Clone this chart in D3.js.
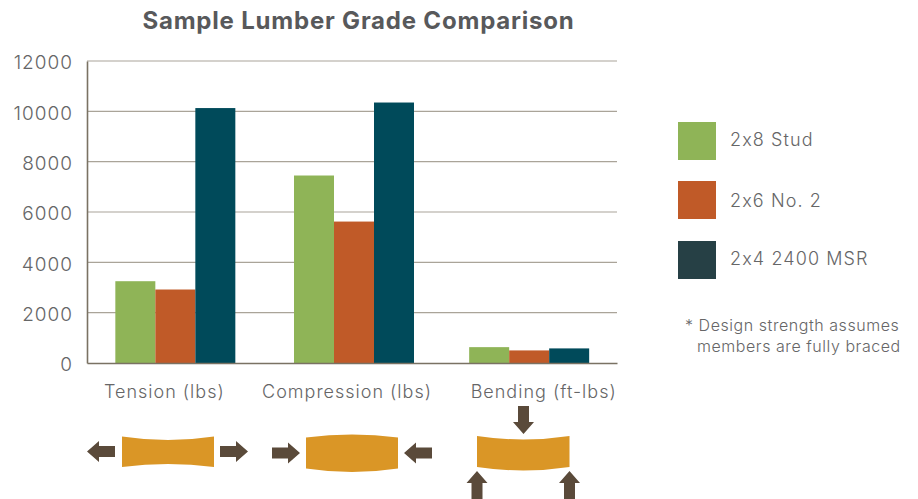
<!DOCTYPE html>
<html>
<head>
<meta charset="UTF-8"/>
<style>
  html, body { margin: 0; padding: 0; background: #fff; }
  svg { display: block; }
  text { font-family: Inter, "Open Sans", sans-serif; font-weight: 300; fill: #666667; font-feature-settings: "calt" 0; }
</style>
</head>
<body>
<script src="https://d3js.org/d3.v7.min.js"></script>
<script>
var categories = ["Tension (lbs)", "Compression (lbs)", "Bending (ft-lbs)"];
var seriesNames = ["2x8 Stud", "2x6 No. 2", "2x4 2400 MSR"];
var stud = [3250, 7450, 630];
var no2 = [2920, 5620, 500];
var msr = [10130, 10350, 580];
var yTicks = [0, 2000, 4000, 6000, 8000, 10000, 12000];
var footnote = ["* Design strength assumes", "members are fully braced"];

var seriesValues = [stud, no2, msr];
var barColors = ["#8fb457", "#c05a28", "#004a5a"];
var legendColors = ["#8fb457", "#c05a28", "#264045"];

var width = 918, height = 499;
var plotLeft = 87, plotRight = 617, plotTop = 61, plotBottom = 363;

var svg = d3.select("body").append("svg")
    .attr("width", width)
    .attr("height", height);

var x = d3.scaleBand().domain(categories).range([plotLeft, plotRight]);
var xInner = d3.scaleBand().domain(seriesNames).range([-60, 60]);
var y = d3.scaleLinear().domain([0, 12000]).range([plotBottom, plotTop]);

svg.append("text")
    .attr("x", 358.5).attr("y", 29)
    .attr("text-anchor", "middle")
    .style("font-size", "24px").style("font-weight", 700)
    .style("letter-spacing", "0.8px")
    .style("fill", "#58595b")
    .text("Sample Lumber Grade Comparison");

// gridlines
svg.append("g").selectAll("line")
    .data(yTicks.slice(1))
    .enter().append("line")
    .attr("x1", plotLeft).attr("x2", plotRight)
    .attr("y1", function(d) { return y(d); })
    .attr("y2", function(d) { return y(d); })
    .attr("stroke", "#aaa499").attr("stroke-width", 1.2);

// bars, the groups are not quite evenly spaced in the picture
var groupShift = [0, 2, 0.5];
var groups = svg.append("g").selectAll("g")
    .data(categories)
    .enter().append("g")
    .attr("transform", function(d, i) {
        return "translate(" + (x(d) + x.bandwidth() / 2 + groupShift[i]) + ",0)";
    });

groups.selectAll("rect")
    .data(function(d, i) {
        return seriesNames.map(function(s, j) {
            return { name: s, value: seriesValues[j][i], color: barColors[j] };
        });
    })
    .enter().append("rect")
    .attr("x", function(d) { return xInner(d.name); })
    .attr("width", xInner.bandwidth())
    .attr("y", function(d) { return y(d.value); })
    .attr("height", function(d) { return plotBottom - y(d.value); })
    .attr("fill", function(d) { return d.color; });

// axes
var yAxis = svg.append("g")
    .attr("transform", "translate(" + plotLeft + ",0)")
    .call(d3.axisLeft(y).tickValues(yTicks).tickSize(0).tickPadding(14).tickFormat(d3.format("d")));
yAxis.select(".domain").attr("stroke", "#7a7263").attr("stroke-width", 1.6);
yAxis.selectAll("text")
    .attr("dy", "0.42em")
    .style("font-size", "19px")
    .style("letter-spacing", "1px")
    .style("font-family", "Inter, sans-serif");

var xAxis = svg.append("g")
    .attr("transform", "translate(0," + plotBottom + ")")
    .call(d3.axisBottom(x).tickSize(0).tickPadding(19));
xAxis.select(".domain").attr("stroke", "#7a7263").attr("stroke-width", 1.6);
// the labels sit a little off the group centres in the picture
var labelShift = [-11, -5, 15];
xAxis.selectAll("text")
    .attr("dx", function(d, i) { return labelShift[i]; })
    .attr("dy", "0.9em")
    .style("font-size", "18px")
    .style("letter-spacing", "1px")
    .style("font-family", "Inter, sans-serif");

// legend
var legend = svg.append("g").selectAll("g")
    .data(seriesNames)
    .enter().append("g")
    .attr("transform", function(d, i) {
        return "translate(678," + [122, 181, 241][i] + ")";
    });
legend.append("rect")
    .attr("width", 38).attr("height", 38)
    .attr("fill", function(d, i) { return legendColors[i]; });
legend.append("text")
    .attr("x", 52)
    .attr("y", function(d, i) { return i === 1 ? 26 : 24; })
    .style("font-size", "18px")
    .style("letter-spacing", "1.1px")
    .text(function(d) { return d; });

// footnote
svg.append("g").selectAll("text")
    .data(footnote)
    .enter().append("text")
    .attr("x", function(d, i) { return i === 0 ? 685 : 697; })
    .attr("y", function(d, i) { return 331 + i * 21; })
    .style("font-size", "16px")
    .style("letter-spacing", "0.55px")
    .text(function(d) { return d; });

// beam and force arrow icons under each category
var beamFill = "#da9626", arrowFill = "#5a4a3a";

function beam(x0, x1, t0, tm, b0, bm) {
    svg.append("path")
        .attr("d", "M" + x0 + "," + t0 +
            "Q" + (x0 + x1) / 2 + "," + (2 * tm - t0) + " " + x1 + "," + t0 +
            "L" + x1 + "," + b0 +
            "Q" + (x0 + x1) / 2 + "," + (2 * bm - b0) + " " + x0 + "," + b0 + "Z")
        .attr("fill", beamFill);
}

// arrow drawn pointing right from its tail, then rotated
function arrow(tx, ty, angle) {
    svg.append("path")
        .attr("d", "M0,-5.5H16V-10.5L28,0L16,10.5V5.5H0Z")
        .attr("transform", "translate(" + tx + "," + ty + ") rotate(" + angle + ")")
        .attr("fill", arrowFill);
}

beam(122, 214, 436.5, 440, 467, 464);
arrow(115, 451.5, 180);
arrow(220, 451.5, 0);

beam(306, 398, 437.5, 434.5, 468.5, 472);
arrow(272, 453, 0);
arrow(432, 453, 180);

beam(477, 569.5, 436, 439.5, 467, 470.5);
arrow(523.5, 406, 90);
arrow(477, 499, -90);
arrow(569.5, 499, -90);
</script>
</body>
</html>
